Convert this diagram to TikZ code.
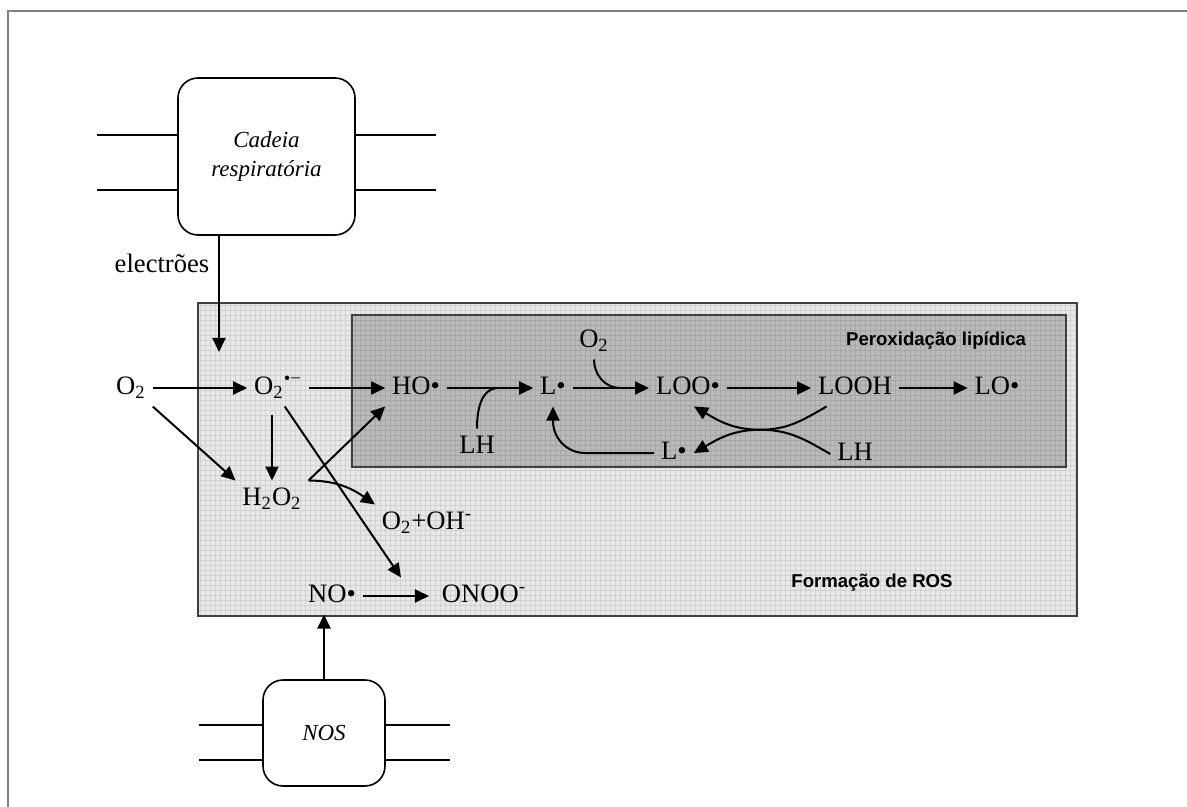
\documentclass[tikz,border=0pt]{standalone}
\usepackage{fontspec}
\setmainfont{Liberation Serif}
\newfontfamily\rotulofonte{Liberation Sans}
\usetikzlibrary{arrows.meta,calc}

\begin{document}
\begin{tikzpicture}[x=0.5pt, y=-0.5pt, >={Triangle[length=7pt,width=6.5pt]}, line width=1pt,
  quim/.style={font=\fontsize{13.3}{15}\selectfont, inner sep=3pt, text height=9pt, text depth=2.5pt},
  membrana/.style={draw, line width=0.8pt, rounded corners=10pt, align=center,
    font=\fontsize{11.5}{14.5}\selectfont\itshape},
  seta/.style={->},
  rotulo/.style={font=\rotulofonte\bfseries\fontsize{9.3}{11}\selectfont, inner sep=0pt}]

\useasboundingbox (0,0) rectangle (1187,807);

% moldura da página
\draw[black!50] (8,807) -- (8,11) -- (1187,11);

% formação de ROS (caixa exterior)
\fill[black!9] (198,303) rectangle (1077,616);
\draw[black!18, line width=0.35pt, step=2.5pt] (198,616) grid (1077,303);
\draw[black!75] (198,303) rectangle (1077,616);

% peroxidação lipídica (caixa interior)
\fill[black!27] (352,315) rectangle (1066,467);
\draw[black!35, line width=0.35pt, step=2.5pt] (352,467) grid (1066,315);
\draw[black!75] (352,315) rectangle (1066,467);

\node[rotulo, anchor=east] (perox) at (1027,341) {Peroxidação lipídica};
\node[rotulo] (formacao) at (872,583) {Formação de ROS};

% cadeia respiratória
\node[membrana, minimum width=88.5pt, minimum height=78.5pt] (cadeia) at (266.5,156.5) {Cadeia\\respiratória};
\foreach \y in {135,190} {
  \draw[line width=0.8pt] (cadeia.west |- 0,\y) -- ++(-80,0);
  \draw[line width=0.8pt] (cadeia.east |- 0,\y) -- ++(80,0);
}
\node[quim] (eletr) at (162,266) {electrões};
\coordinate (entrada) at (219,352);
\draw[seta] (cadeia.south -| entrada) -- (entrada);

% espécies
\node[quim] (o2) at (131,388) {O\textsubscript{2}};
\node[quim] (sup) at (278,388) {O\textsubscript{2}\textsuperscript{•−}};
\node[quim] (ho) at (416,388) {HO•};
\node[quim] (lr) at (553,388) {L•};
\node[quim] (loo) at (688,388) {LOO•};
\node[quim] (looh) at (855,388) {LOOH};
\node[quim] (lo) at (997,388) {LO•};
\node[quim] (o2top) at (594,341) {O\textsubscript{2}};
\node[quim] (lh1) at (477,447) {LH};
\node[quim] (l2) at (674,453) {L•};
\node[quim] (lh2) at (855,454) {LH};
\node[quim] (h2o2) at (272,499) {H\textsubscript{2}O\textsubscript{2}};
\node[quim] (o2oh) at (427,523) {O\textsubscript{2}+OH\textsuperscript{-}};
\node[quim] (no) at (332,596) {NO•};
\node[quim] (onoo) at (484,596) {ONOO\textsuperscript{-}};

% NOS
\node[membrana, minimum width=61pt, minimum height=53pt] (nos) at (324,733) {NOS};
\foreach \y in {725,760} {
  \draw[line width=0.8pt] (nos.west |- 0,\y) -- ++(-63,0);
  \draw[line width=0.8pt] (nos.east |- 0,\y) -- ++(64,0);
}

% reacções
\draw[seta] (o2) -- (sup);
\draw[seta] (sup) -- (ho);
\draw[seta] (ho) -- (lr);
\draw[seta] (lr) -- (loo);
\draw[seta] (loo) -- (looh);
\draw[seta] (looh) -- (lo);
\draw[seta] (o2.south east) -- (h2o2.north west);
\draw[seta, shorten <=4pt] (h2o2.north |- sup.south) -- (h2o2.north);
\draw[seta] (h2o2.north east) -- (ho.south west);
\draw[seta] (h2o2.north east) to[out=0, in=145] (o2oh.north west);
\draw[seta] (sup.-70) -- ([xshift=-17pt]onoo.north west);
\draw[seta, shorten >=3pt] (no) -- (onoo);
\draw[seta] (nos.north) -- (nos.north |- no.south);

% entradas de LH e O2
\coordinate (j1) at ($(ho.east)!0.6!(lr.west)$);
\coordinate (j2) at ($(lr.east)!0.62!(loo.west)$);
\draw (lh1.north) to[out=90, in=180] (j1);
\draw (o2top.south) to[out=-90, in=180] (j2);

% ciclo de propagação
\coordinate (beijo) at ($(looh.-147)!0.5!(l2.east)$);
\draw[seta] (looh.-147) to[out=210, in=0] (beijo) to[out=180, in=-30] (loo.-72);
\draw[seta] (lh2.west) to[out=150, in=0] (beijo) to[out=180, in=30] (l2.east);
\draw[seta, rounded corners=16pt] (l2.west) -| (lr.south);

\end{tikzpicture}
\end{document}
